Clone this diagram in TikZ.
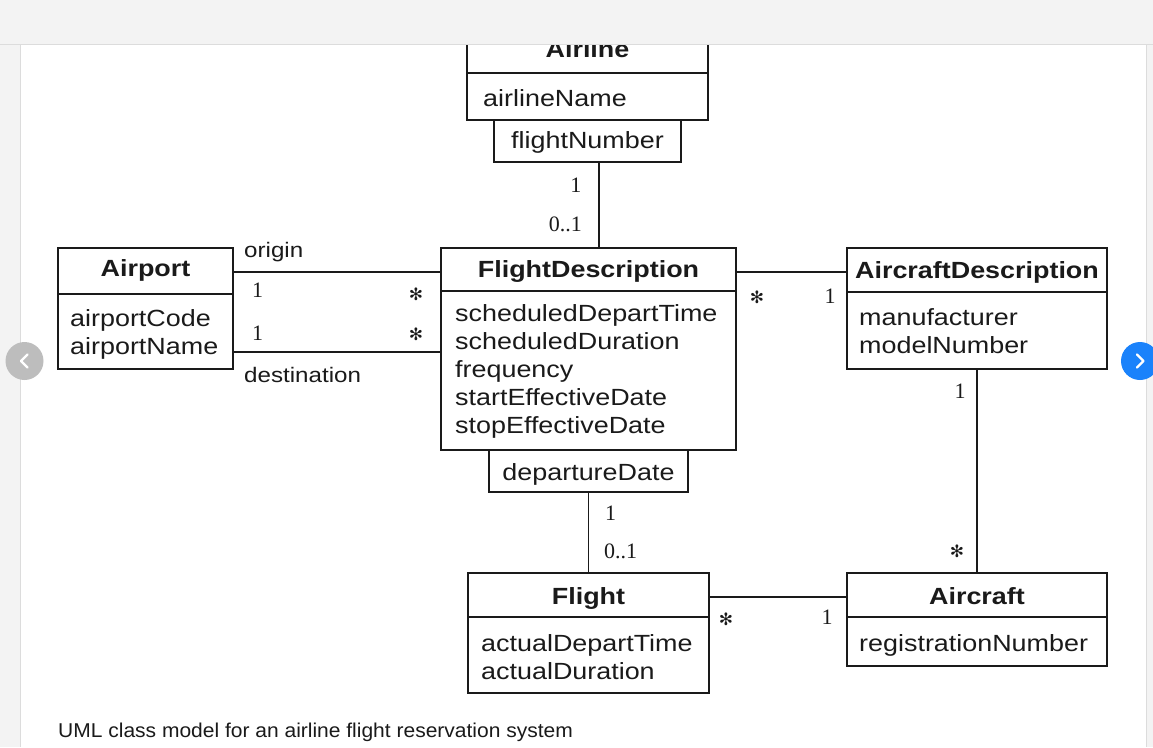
\documentclass[tikz,border=0pt]{standalone}
\usepackage{fontspec}
\setmainfont{Liberation Sans}
\newfontfamily\diagfont[FakeStretch=1.15]{Liberation Sans}
\newfontfamily\multfont{Liberation Serif}
\newfontfamily\capfont[FakeStretch=1.05]{Liberation Sans}
\newfontfamily\starfont{DejaVu Sans}
\definecolor{pagegray}{HTML}{F3F3F3}
\definecolor{bordergray}{HTML}{DCDCDC}
\definecolor{navgray}{HTML}{BDBDBD}
\definecolor{navblue}{HTML}{1A82FB}
\definecolor{ink}{HTML}{1A1A1A}
\tikzset{
  box/.style={draw=ink, line width=1.4pt, rectangle, inner sep=0pt, outer sep=0pt},
  sepline/.style={draw=ink, line width=1.4pt},
  conn/.style={draw=ink, line width=1.4pt},
  title/.style={font=\diagfont\bfseries\fontsize{23.4}{26}\selectfont, anchor=base, inner sep=0pt, text=ink},
  attr/.style={font=\diagfont\fontsize{23.4}{26}\selectfont, anchor=base west, inner sep=0pt, text=ink},
  qual/.style={font=\diagfont\fontsize{23.4}{26}\selectfont, anchor=base, inner sep=0pt, text=ink},
  role/.style={font=\diagfont\fontsize{21}{24}\selectfont, anchor=base west, inner sep=0pt, text=ink},
  mult/.style={font=\multfont\fontsize{22}{24}\selectfont, inner sep=0pt, text=ink},
  star/.style={font=\starfont\fontsize{17}{17}\selectfont, inner sep=0pt, anchor=center, text=ink},
  chev/.style={draw=white, line width=2.2pt, line cap=round, line join=round}
}
\begin{document}
\begin{tikzpicture}[x=1pt,y=-1pt]
\useasboundingbox (0,0) rectangle (1153,747);
\fill[white] (0,0) rectangle (1153,747);

% ---- class boxes ----
\node[box, minimum width=241pt, minimum height=100pt] (airline) at (587.5,70) {};
\node[box, minimum width=187pt, minimum height=42pt] (fn) at (587.5,141) {};
\node[box, minimum width=295pt, minimum height=202pt] (fd) at (588.5,349) {};
\node[box, minimum width=199pt, minimum height=42pt] (dd) at (588.5,471) {};
\node[box, minimum width=175pt, minimum height=121pt] (airport) at (145.5,308.5) {};
\node[box, minimum width=260pt, minimum height=121pt] (ad) at (977,308.5) {};
\node[box, minimum width=241pt, minimum height=120pt] (flight) at (588.5,633) {};
\node[box, minimum width=260pt, minimum height=93pt] (aircraft) at (977,619.5) {};

% separators
\coordinate (sAirline) at (0,73);
\coordinate (sFd) at (0,291);
\coordinate (sAirport) at (0,294);
\coordinate (sAd) at (0,292);
\coordinate (sLow) at (0,617);
\draw[sepline] (airline.west |- sAirline) -- (airline.east |- sAirline);
\draw[sepline] (fd.west |- sFd) -- (fd.east |- sFd);
\draw[sepline] (airport.west |- sAirport) -- (airport.east |- sAirport);
\draw[sepline] (ad.west |- sAd) -- (ad.east |- sAd);
\draw[sepline] (flight.west |- sLow) -- (flight.east |- sLow);
\draw[sepline] (aircraft.west |- sLow) -- (aircraft.east |- sLow);

% ---- texts ----
\node[title] (tAirline) at (587.5,57) {Airline};
\node[attr] (aAirline) at (483,106) {airlineName};
\node[qual] (qFn) at (587.5,148) {flightNumber};

\node[title] (tFd) at (588.5,277) {FlightDescription};
\node[attr] (aFd1) at (455,321) {scheduledDepartTime};
\node[attr] (aFd2) at (455,349) {scheduledDuration};
\node[attr] (aFd3) at (455,377) {frequency};
\node[attr] (aFd4) at (455,405) {startEffectiveDate};
\node[attr] (aFd5) at (455,433) {stopEffectiveDate};
\node[qual] (qDd) at (588.5,480) {departureDate};

\node[title] (tAirport) at (145.5,276) {Airport};
\node[attr] (aAp1) at (70,326) {airportCode};
\node[attr] (aAp2) at (70,354) {airportName};

\node[title] (tAd) at (977,278) {AircraftDescription};
\node[attr] (aAd1) at (859,325) {manufacturer};
\node[attr] (aAd2) at (859,353) {modelNumber};

\node[title] (tFlight) at (588.5,604) {Flight};
\node[attr] (aFl1) at (481,651) {actualDepartTime};
\node[attr] (aFl2) at (481,679) {actualDuration};

\node[title] (tAircraft) at (977,604) {Aircraft};
\node[attr] (aAc1) at (859,651) {registrationNumber};

% ---- connectors ----
\coordinate (xFn) at (599,0);
\coordinate (yOrig) at (0,272);
\coordinate (yDest) at (0,352);
\coordinate (yAd) at (0,272);
\coordinate (yAc) at (0,597);
\draw[conn] (fn.south -| xFn) -- (fd.north -| xFn);
\draw[conn] (dd.south) -- (dd.south |- flight.north);
\draw[conn] (airport.east |- yOrig) -- (fd.west |- yOrig);
\draw[conn] (airport.east |- yDest) -- (fd.west |- yDest);
\draw[conn] (fd.east |- yAd) -- (ad.west |- yAd);
\draw[conn] (ad.south) -- (aircraft.north);
\draw[conn] (flight.east |- yAc) -- (aircraft.west |- yAc);

% ---- role names and multiplicities ----
\node[role] (rOrig) at (244,257) {origin};
\node[role] (rDest) at (244,382) {destination};
\node[mult, anchor=base west] (m1) at (252,297) {1};
\node[mult, anchor=base west] (m2) at (252,340) {1};
\node[star] (m3) at (416,294) {✻};
\node[star] (m4) at (416,334) {✻};
\node[mult, anchor=base east] (m5) at (581.5,192) {1};
\node[mult, anchor=base east] (m6) at (582,231) {0..1};
\node[mult, anchor=base west] (m7) at (605,520) {1};
\node[mult, anchor=base west] (m8) at (604,558) {0..1};
\node[star] (m9) at (757,297) {✻};
\node[mult, anchor=base] (m10) at (830,303) {1};
\node[mult, anchor=base] (m11) at (960,398) {1};
\node[star] (m12) at (957,551) {✻};
\node[star] (m13) at (726,619) {✻};
\node[mult, anchor=base] (m14) at (827,624) {1};

% ---- caption ----
\node[font=\capfont\fontsize{20}{24}\selectfont, anchor=base west, inner sep=0pt, text=ink] (caption) at (58,737) {UML class model for an airline flight reservation system};

% ---- page chrome ----
\fill[pagegray] (0,0) rectangle (1153,44);
\draw[bordergray, line width=1pt] (0,44) -- (1153,44);
\fill[pagegray] (0,44.5) rectangle (20,747);
\fill[pagegray] (1146,44.5) rectangle (1153,747);
\draw[bordergray, line width=0.6pt] (20,44.5) -- (20,747);
\draw[bordergray, line width=0.6pt] (1146,44.5) -- (1146,747);
\node[circle, fill=navgray, minimum size=38pt, inner sep=0pt] (navL) at (24.5,361) {};
\node[circle, fill=navblue, minimum size=38pt, inner sep=0pt] (navR) at (1140,361) {};
\draw[chev] ([shift={(3,-6.5)}]navL.center) -- ([shift={(-3.5,0)}]navL.center) -- ([shift={(3,6.5)}]navL.center);
\draw[chev] ([shift={(-3,-6.5)}]navR.center) -- ([shift={(3.5,0)}]navR.center) -- ([shift={(-3,6.5)}]navR.center);
\end{tikzpicture}
\end{document}
